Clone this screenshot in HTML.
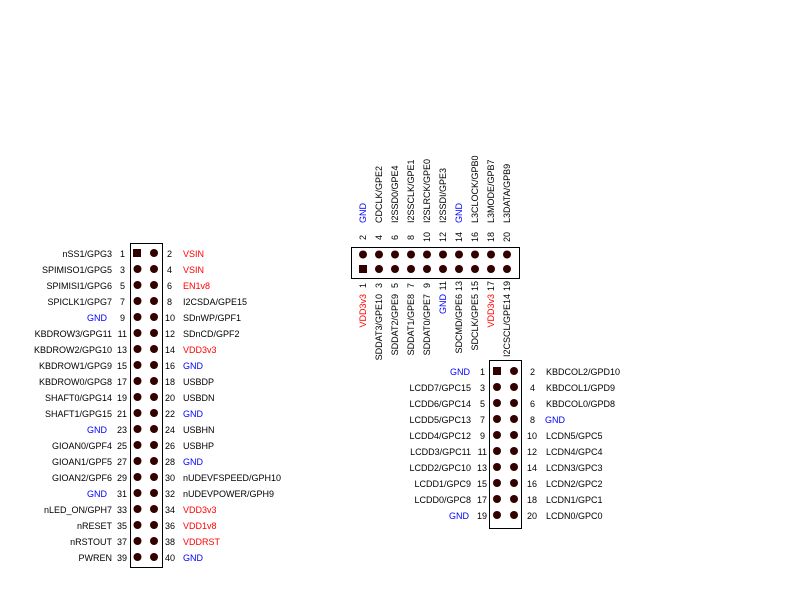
<!DOCTYPE html>
<html><head><meta charset="utf-8"><style>
html,body{margin:0;padding:0;background:#fff;}
svg{display:block;}
text{font-family:"Liberation Sans",Arial,sans-serif;font-size:9px;fill:#000;}
.r{fill:#ff0000;} .b{fill:#0000ff;}
</style></head><body>
<svg width="800" height="600" xmlns="http://www.w3.org/2000/svg">
<g id="left">
<rect x="130.5" y="243.5" width="32" height="324" fill="none" stroke="#000" stroke-width="1"/>
<rect x="133" y="249" width="8" height="8" fill="#330000"/>
<g fill="#330000">
<circle cx="154" cy="253" r="4"/>
<circle cx="137.5" cy="269" r="4"/><circle cx="154" cy="269" r="4"/>
<circle cx="137.5" cy="285" r="4"/><circle cx="154" cy="285" r="4"/>
<circle cx="137.5" cy="301" r="4"/><circle cx="154" cy="301" r="4"/>
<circle cx="137.5" cy="317" r="4"/><circle cx="154" cy="317" r="4"/>
<circle cx="137.5" cy="333" r="4"/><circle cx="154" cy="333" r="4"/>
<circle cx="137.5" cy="349" r="4"/><circle cx="154" cy="349" r="4"/>
<circle cx="137.5" cy="365" r="4"/><circle cx="154" cy="365" r="4"/>
<circle cx="137.5" cy="381" r="4"/><circle cx="154" cy="381" r="4"/>
<circle cx="137.5" cy="397" r="4"/><circle cx="154" cy="397" r="4"/>
<circle cx="137.5" cy="413" r="4"/><circle cx="154" cy="413" r="4"/>
<circle cx="137.5" cy="429" r="4"/><circle cx="154" cy="429" r="4"/>
<circle cx="137.5" cy="445" r="4"/><circle cx="154" cy="445" r="4"/>
<circle cx="137.5" cy="461" r="4"/><circle cx="154" cy="461" r="4"/>
<circle cx="137.5" cy="477" r="4"/><circle cx="154" cy="477" r="4"/>
<circle cx="137.5" cy="493" r="4"/><circle cx="154" cy="493" r="4"/>
<circle cx="137.5" cy="509" r="4"/><circle cx="154" cy="509" r="4"/>
<circle cx="137.5" cy="525" r="4"/><circle cx="154" cy="525" r="4"/>
<circle cx="137.5" cy="541" r="4"/><circle cx="154" cy="541" r="4"/>
<circle cx="137.5" cy="557" r="4"/><circle cx="154" cy="557" r="4"/>
</g>
<g text-anchor="end">
<text x="112" y="257">nSS1/GPG3</text><text x="125" y="257">1</text>
<text x="112" y="273">SPIMISO1/GPG5</text><text x="125" y="273">3</text>
<text x="112" y="289">SPIMISI1/GPG6</text><text x="125" y="289">5</text>
<text x="112" y="305">SPICLK1/GPG7</text><text x="125" y="305">7</text>
<text x="107" y="321" class="b">GND</text><text x="125" y="321">9</text>
<text x="112" y="337">KBDROW3/GPG11</text><text x="127" y="337">11</text>
<text x="112" y="353">KBDROW2/GPG10</text><text x="127" y="353">13</text>
<text x="112" y="369">KBDROW1/GPG9</text><text x="127" y="369">15</text>
<text x="112" y="385">KBDROW0/GPG8</text><text x="127" y="385">17</text>
<text x="112" y="401">SHAFT0/GPG14</text><text x="127" y="401">19</text>
<text x="112" y="417">SHAFT1/GPG15</text><text x="127" y="417">21</text>
<text x="107" y="433" class="b">GND</text><text x="127" y="433">23</text>
<text x="112" y="449">GIOAN0/GPF4</text><text x="127" y="449">25</text>
<text x="112" y="465">GIOAN1/GPF5</text><text x="127" y="465">27</text>
<text x="112" y="481">GIOAN2/GPF6</text><text x="127" y="481">29</text>
<text x="107" y="497" class="b">GND</text><text x="127" y="497">31</text>
<text x="112" y="513">nLED_ON/GPH7</text><text x="127" y="513">33</text>
<text x="112" y="529">nRESET</text><text x="127" y="529">35</text>
<text x="112" y="545">nRSTOUT</text><text x="127" y="545">37</text>
<text x="112" y="561">PWREN</text><text x="127" y="561">39</text>
</g>
<g>
<text x="167" y="257">2</text><text x="183" y="257" class="r">VSIN</text>
<text x="167" y="273">4</text><text x="183" y="273" class="r">VSIN</text>
<text x="167" y="289">6</text><text x="183" y="289" class="r">EN1v8</text>
<text x="167" y="305">8</text><text x="183" y="305">I2CSDA/GPE15</text>
<text x="165" y="321">10</text><text x="183" y="321">SDnWP/GPF1</text>
<text x="165" y="337">12</text><text x="183" y="337">SDnCD/GPF2</text>
<text x="165" y="353">14</text><text x="183" y="353" class="r">VDD3v3</text>
<text x="165" y="369">16</text><text x="183" y="369" class="b">GND</text>
<text x="165" y="385">18</text><text x="183" y="385">USBDP</text>
<text x="165" y="401">20</text><text x="183" y="401">USBDN</text>
<text x="165" y="417">22</text><text x="183" y="417" class="b">GND</text>
<text x="165" y="433">24</text><text x="183" y="433">USBHN</text>
<text x="165" y="449">26</text><text x="183" y="449">USBHP</text>
<text x="165" y="465">28</text><text x="183" y="465" class="b">GND</text>
<text x="165" y="481">30</text><text x="183" y="481">nUDEVFSPEED/GPH10</text>
<text x="165" y="497">32</text><text x="183" y="497">nUDEVPOWER/GPH9</text>
<text x="165" y="513">34</text><text x="183" y="513" class="r">VDD3v3</text>
<text x="165" y="529">36</text><text x="183" y="529" class="r">VDD1v8</text>
<text x="165" y="545">38</text><text x="183" y="545" class="r">VDDRST</text>
<text x="165" y="561">40</text><text x="183" y="561" class="b">GND</text>
</g>
</g>

<g id="top">
<rect x="351.5" y="247.5" width="168" height="31" fill="none" stroke="#000"/>
<rect x="359" y="265" width="8" height="8" fill="#330000"/>
<g fill="#330000">
<circle cx="363" cy="254.5" r="4"/>
<circle cx="379" cy="254.5" r="4"/><circle cx="379" cy="269" r="4"/>
<circle cx="395" cy="254.5" r="4"/><circle cx="395" cy="269" r="4"/>
<circle cx="411" cy="254.5" r="4"/><circle cx="411" cy="269" r="4"/>
<circle cx="427" cy="254.5" r="4"/><circle cx="427" cy="269" r="4"/>
<circle cx="443" cy="254.5" r="4"/><circle cx="443" cy="269" r="4"/>
<circle cx="459" cy="254.5" r="4"/><circle cx="459" cy="269" r="4"/>
<circle cx="475" cy="254.5" r="4"/><circle cx="475" cy="269" r="4"/>
<circle cx="491" cy="254.5" r="4"/><circle cx="491" cy="269" r="4"/>
<circle cx="507" cy="254.5" r="4"/><circle cx="507" cy="269" r="4"/>
</g>
<g>
<text transform="translate(366,240) rotate(-90)">2</text><text transform="translate(366,223) rotate(-90)" class="b">GND</text>
<text transform="translate(382,240) rotate(-90)">4</text><text transform="translate(382,223) rotate(-90)">CDCLK/GPE2</text>
<text transform="translate(398,240) rotate(-90)">6</text><text transform="translate(398,223) rotate(-90)">I2SSD0/GPE4</text>
<text transform="translate(414,240) rotate(-90)">8</text><text transform="translate(414,223) rotate(-90)">I2SSCLK/GPE1</text>
<text transform="translate(430,242) rotate(-90)">10</text><text transform="translate(430,223) rotate(-90)">I2SLRCK/GPE0</text>
<text transform="translate(446,242) rotate(-90)">12</text><text transform="translate(446,223) rotate(-90)">I2SSDI/GPE3</text>
<text transform="translate(462,242) rotate(-90)">14</text><text transform="translate(462,223) rotate(-90)" class="b">GND</text>
<text transform="translate(478,242) rotate(-90)">16</text><text transform="translate(478,223) rotate(-90)">L3CLOCK/GPB0</text>
<text transform="translate(494,242) rotate(-90)">18</text><text transform="translate(494,223) rotate(-90)">L3MODE/GPB7</text>
<text transform="translate(510,242) rotate(-90)">20</text><text transform="translate(510,223) rotate(-90)">L3DATA/GPB9</text>
</g>
<g text-anchor="end">
<text transform="translate(366,283) rotate(-90)">1</text><text transform="translate(366,294) rotate(-90)" class="r">VDD3v3</text>
<text transform="translate(382,283) rotate(-90)">3</text><text transform="translate(382,294) rotate(-90)">SDDAT3/GPE10</text>
<text transform="translate(398,283) rotate(-90)">5</text><text transform="translate(398,294) rotate(-90)">SDDAT2/GPE9</text>
<text transform="translate(414,283) rotate(-90)">7</text><text transform="translate(414,294) rotate(-90)">SDDAT1/GPE8</text>
<text transform="translate(430,283) rotate(-90)">9</text><text transform="translate(430,294) rotate(-90)">SDDAT0/GPE7</text>
<text transform="translate(446,281) rotate(-90)">11</text><text transform="translate(446,294) rotate(-90)" class="b">GND</text>
<text transform="translate(462,281) rotate(-90)">13</text><text transform="translate(462,294) rotate(-90)">SDCMD/GPE6</text>
<text transform="translate(478,281) rotate(-90)">15</text><text transform="translate(478,294) rotate(-90)">SDCLK/GPE5</text>
<text transform="translate(494,281) rotate(-90)">17</text><text transform="translate(494,294) rotate(-90)" class="r">VDD3v3</text>
<text transform="translate(510,281) rotate(-90)">19</text><text transform="translate(510,294) rotate(-90)">I2CSCL/GPE14</text>
</g>
</g>

<g id="right">
<rect x="489.5" y="360.5" width="32" height="168" fill="none" stroke="#000"/>
<rect x="493" y="367" width="8" height="8" fill="#330000"/>
<g fill="#330000">
<circle cx="514" cy="371" r="4"/>
<circle cx="497" cy="387" r="4"/><circle cx="514" cy="387" r="4"/>
<circle cx="497" cy="403" r="4"/><circle cx="514" cy="403" r="4"/>
<circle cx="497" cy="419" r="4"/><circle cx="514" cy="419" r="4"/>
<circle cx="497" cy="435" r="4"/><circle cx="514" cy="435" r="4"/>
<circle cx="497" cy="451" r="4"/><circle cx="514" cy="451" r="4"/>
<circle cx="497" cy="467" r="4"/><circle cx="514" cy="467" r="4"/>
<circle cx="497" cy="483" r="4"/><circle cx="514" cy="483" r="4"/>
<circle cx="497" cy="499" r="4"/><circle cx="514" cy="499" r="4"/>
<circle cx="497" cy="515" r="4"/><circle cx="514" cy="515" r="4"/>
</g>
<g text-anchor="end">
<text x="470" y="375" class="b">GND</text><text x="485" y="375">1</text>
<text x="471" y="391">LCDD7/GPC15</text><text x="485" y="391">3</text>
<text x="471" y="407">LCDD6/GPC14</text><text x="485" y="407">5</text>
<text x="471" y="423">LCDD5/GPC13</text><text x="485" y="423">7</text>
<text x="471" y="439">LCDD4/GPC12</text><text x="485" y="439">9</text>
<text x="471" y="455">LCDD3/GPC11</text><text x="487" y="455">11</text>
<text x="471" y="471">LCDD2/GPC10</text><text x="487" y="471">13</text>
<text x="471" y="487">LCDD1/GPC9</text><text x="487" y="487">15</text>
<text x="471" y="503">LCDD0/GPC8</text><text x="487" y="503">17</text>
<text x="469" y="519" class="b">GND</text><text x="487" y="519">19</text>
</g>
<g>
<text x="530" y="375">2</text><text x="546" y="375">KBDCOL2/GPD10</text>
<text x="530" y="391">4</text><text x="546" y="391">KBDCOL1/GPD9</text>
<text x="530" y="407">6</text><text x="546" y="407">KBDCOL0/GPD8</text>
<text x="530" y="423">8</text><text x="545" y="423" class="b">GND</text>
<text x="527" y="439">10</text><text x="546" y="439">LCDN5/GPC5</text>
<text x="527" y="455">12</text><text x="546" y="455">LCDN4/GPC4</text>
<text x="527" y="471">14</text><text x="546" y="471">LCDN3/GPC3</text>
<text x="527" y="487">16</text><text x="546" y="487">LCDN2/GPC2</text>
<text x="527" y="503">18</text><text x="546" y="503">LCDN1/GPC1</text>
<text x="527" y="519">20</text><text x="546" y="519">LCDN0/GPC0</text>
</g>
</g>
</svg>
</body></html>
